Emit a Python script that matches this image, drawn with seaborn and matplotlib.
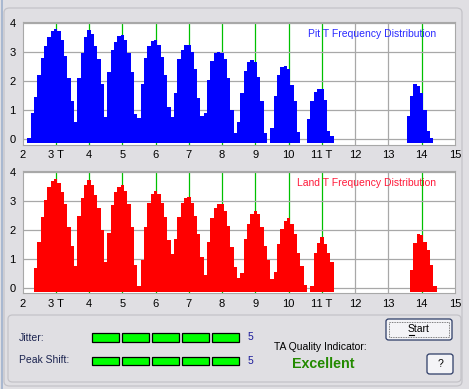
import numpy as np
import pandas as pd
import matplotlib
matplotlib.use('Agg')
import matplotlib.pyplot as plt
import seaborn as sns
from matplotlib.patches import Rectangle, FancyBboxPatch

# Pit T frequency distribution (top), 0.1 T bins
pit_start = 2.2
pit_counts = [0.05, 0.9, 1.45, 2.2, 2.8, 3.2, 3.5, 3.72, 3.78, 3.72, 3.4, 2.85, 2.1, 1.3, 0.6,
              2.1, 2.95, 3.5, 3.76, 3.62, 3.2, 2.75, 1.9, 0.75,
              2.3, 3.05, 3.35, 3.55, 3.58, 3.42, 2.95, 2.3, 0.85, 0.72,
              1.9, 2.78, 3.2, 3.37, 3.41, 3.22, 2.82, 2.2, 1.1, 0.75,
              1.6, 2.75, 3.05, 3.22, 3.22, 3.0, 2.4, 1.4, 0.8,
              0.9, 2.05, 2.7, 2.95, 3.0, 2.95, 2.75, 2.1, 1.0, 0.2,
              0.6, 1.6, 2.35, 2.65, 2.72, 2.65, 2.15, 1.3, 0.2, 0.0,
              0.4, 1.5, 2.2, 2.48, 2.5, 2.4, 1.85, 1.3, 0.25, 0.0, 0.0,
              0.7, 1.3, 1.63, 1.72, 1.72, 1.35, 0.3, 0.1]
pit14_start = 13.6
pit14_counts = [0.8, 1.5, 1.9, 1.82, 1.6, 1.0, 0.3, 0.05]

# Land T frequency distribution (bottom)
land_start = 2.4
land_counts = [0.7, 1.6, 2.45, 3.05, 3.5, 3.7, 3.77, 3.63, 3.3, 2.9, 2.1, 1.45, 0.75,
               2.5, 3.1, 3.55, 3.72, 3.55, 3.2, 2.75, 2.0, 0.9,
               1.9, 2.85, 3.3, 3.5, 3.55, 3.35, 2.9, 2.1, 0.8, 0.05,
               0.95, 2.1, 2.95, 3.23, 3.34, 3.25, 2.92, 2.45, 1.65, 1.18,
               1.7, 2.45, 2.95, 3.1, 3.15, 2.95, 2.5, 1.85, 1.05, 0.45,
               1.6, 2.4, 2.75, 2.9, 2.9, 2.65, 2.15, 1.4, 0.72, 0.35,
               0.5, 1.7, 2.2, 2.55, 2.67, 2.55, 2.1, 1.45, 0.95, 0.3,
               0.55, 1.5, 2.05, 2.3, 2.4, 2.2, 1.85, 1.2, 0.75, 0.08, 0.0, 0.05,
               1.2, 1.55, 1.75, 1.5, 1.2, 0.9]
land14_start = 13.7
land14_counts = [0.6, 1.55, 1.87, 1.83, 1.6, 1.3, 0.8, 0.05]

x_ticks = list(range(2, 16))
x_labels = ['2', '3 T', '4', '5', '6', '7', '8', '9', '10', '11 T', '12', '13', '14', '15']
y_ticks = [0, 1, 2, 3, 4]
green_marks = [3, 4, 5, 6, 7, 8, 9, 10, 11, 14]

jitter_level = 5
peak_shift_level = 5
quality = 'Excellent'

W, H = 469, 389
BG = '#e0dfe3'
GRID = '#a8a8a8'
GREEN = '#00c000'

plt.rcParams['font.family'] = ['Liberation Sans', 'DejaVu Sans']
plt.rcParams['font.size'] = 7.5


def series(start, counts, start2, counts2):
    t1 = np.round(start + 0.1 * np.arange(len(counts)), 2)
    t2 = np.round(start2 + 0.1 * np.arange(len(counts2)), 2)
    return pd.DataFrame({'T': np.concatenate([t1, t2]),
                         'count': np.array(counts + counts2, dtype=float)})


def px_ax(x0, y0, x1, y1):
    return [x0 / W, 1 - y1 / H, (x1 - x0) / W, (y1 - y0) / H]


def draw_panel(ax, df, color, title, title_color):
    ax.set_facecolor('white')
    # bin edges halfway between 0.1 T bin centres
    edges = [round(1.95 + 0.1 * k, 2) for k in range(132)]
    sns.histplot(data=df, x='T', weights='count', bins=edges,
                 element='step', fill=True, color=color, alpha=1, linewidth=0, ax=ax, zorder=3)
    nz = df[df['count'] > 0]
    ax.bar(nz['T'], 0.13, bottom=-0.13, width=0.1, color=color, linewidth=0, zorder=3)
    for v in x_ticks[1:-1]:
        ax.axvline(v, color=GREEN if v in green_marks else GRID, lw=0.9, zorder=1)
    for v in y_ticks:
        ax.axhline(v, color=GRID, lw=0.9, zorder=1)
    ax.set_xlim(2, 15)
    ax.set_ylim(-0.18, 4.04)
    ax.set_xticks(x_ticks)
    ax.set_xticklabels(x_labels)
    ax.set_yticks(y_ticks)
    ax.tick_params(length=0, labelsize=8)
    ax.tick_params(axis='x', pad=4)
    ax.tick_params(axis='y', pad=5)
    ax.set_xlabel('')
    ax.set_ylabel('')
    for s in ax.spines.values():
        s.set_color(GRID)
        s.set_linewidth(0.8)
    ax.text(0.956, 0.90, title, transform=ax.transAxes, ha='right', va='center',
            color=title_color, fontsize=7.5)


fig = plt.figure(figsize=(W / 100, H / 100), dpi=100, facecolor=BG)

# window frames
fig.add_artist(Rectangle((1 / W, 0), 1.5 / W, 1, transform=fig.transFigure,
                         facecolor='#a9b8d0', edgecolor='none'))
fig.add_artist(FancyBboxPatch((4 / W, 1 - 386 / H), 458 / W, 378 / H,
                              boxstyle='round,pad=0,rounding_size=0.012',
                              transform=fig.transFigure, facecolor='none',
                              edgecolor='#c4c3c8', lw=0.9))
fig.add_artist(FancyBboxPatch((8 / W, 1 - 382 / H), 453 / W, 67 / H,
                              boxstyle='round,pad=0,rounding_size=0.01',
                              transform=fig.transFigure, facecolor='none',
                              edgecolor='#c4c3c8', lw=0.9))

ax1 = fig.add_axes(px_ax(22.5, 21.5, 455, 144.5))
ax2 = fig.add_axes(px_ax(22.5, 171, 455, 293))

pit = series(pit_start, pit_counts, pit14_start, pit14_counts)
land = series(land_start, land_counts, land14_start, land14_counts)
draw_panel(ax1, pit, '#0000ff', 'Pit T Frequency Distribution', '#2a2aff')
draw_panel(ax2, land, '#ff0000', 'Land T Frequency Distribution', '#ff1a3a')


def ftext(x, y, s, **kw):
    fig.text(x / W, 1 - y / H, s, **kw)


# meters
ftext(19, 338, 'Jitter:', va='center', ha='left', color='#1c2450')
ftext(19, 360, 'Peak Shift:', va='center', ha='left', color='#1c2450')
for row, level in [(333, jitter_level), (356.5, peak_shift_level)]:
    for i in range(level):
        x0 = 92 + 30 * i
        fig.add_artist(Rectangle((x0 / W, 1 - (row + 8.5) / H), 27 / W, 8.5 / H,
                                 transform=fig.transFigure, facecolor='#00ff00',
                                 edgecolor='black', lw=0.9))
    ftext(250, row + 4.5, str(level), va='center', ha='center', color='#1a1a9a')

ftext(274, 346.5, 'TA Quality Indicator:', va='center', ha='left', color='black')
ftext(292, 364.5, quality, va='center', ha='left', color='#238a00', fontsize=10.3,
      fontweight='bold')

# buttons
for (x0, y0, x1, y1), label in [((386, 319, 452, 340), 'Start'), ((427, 354, 453, 374), '?')]:
    fig.add_artist(FancyBboxPatch((x0 / W, 1 - y1 / H), (x1 - x0) / W, (y1 - y0) / H,
                                  boxstyle='round,pad=0,rounding_size=0.006',
                                  transform=fig.transFigure, facecolor='#f4f4f7',
                                  edgecolor='#2c3b66', lw=0.9))
    ftext((x0 + x1) / 2, (y0 + y1) / 2, label, va='center', ha='center', color='black')
fig.add_artist(Rectangle((389 / W, 1 - 337 / H), 60 / W, 15 / H, transform=fig.transFigure,
                         facecolor='none', edgecolor='#555555', lw=0.6, ls=(0, (1, 1))))
fig.add_artist(plt.Line2D([409 / W, 414 / W], [1 - 335 / H, 1 - 335 / H],
                          transform=fig.transFigure, color='black', lw=0.8))

fig.savefig('out.png', dpi=100, facecolor=BG)
